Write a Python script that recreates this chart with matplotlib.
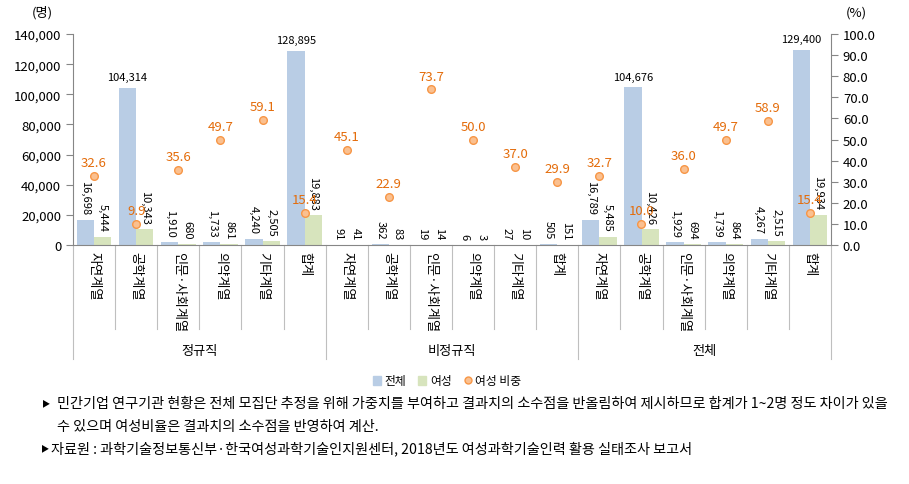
import matplotlib.pyplot as plt
from matplotlib.patches import Patch
from matplotlib.lines import Line2D

plt.rcParams['font.family'] = ['Noto Sans CJK KR', 'DejaVu Sans']

# data
groups = ['정규직', '비정규직', '전체']
fields = ['자연계열', '공학계열', '인문·사회계열', '의약계열', '기타계열', '합계']
total = [16698, 104314, 1910, 1733, 4240, 128895,
         91, 362, 19, 6, 27, 505,
         16789, 104676, 1929, 1739, 4267, 129400]
women = [5444, 10343, 680, 861, 2505, 19883,
         41, 83, 14, 3, 10, 151,
         5485, 10426, 694, 864, 2515, 19934]
ratio = [32.6, 9.9, 35.6, 49.7, 59.1, 15.4,
         45.1, 22.9, 73.7, 50.0, 37.0, 29.9,
         32.7, 10.0, 36.0, 49.7, 58.9, 15.4]

c_total = '#B9CDE5'
c_women = '#D7E4BD'
c_ratio = '#F79646'
c_text = '#E46C0A'
c_axis = '#868686'

fig = plt.figure(figsize=(9.09, 4.85), dpi=100)
ax = fig.add_axes([73/909, 1-246/485, (831-73)/909, (246-35)/485])
ax2 = ax.twinx()

n = len(total)
x = list(range(n))
w = 0.41
ax.bar([i - w/2 for i in x], total, w, color=c_total, zorder=2)
ax.bar([i + w/2 for i in x], women, w, color=c_women, zorder=2)
ax.set_xlim(-0.5, n - 0.5)
ax.set_ylim(0, 140000)
ax.set_yticks(range(0, 140001, 20000))
ax.set_yticklabels([f'{v:,}' for v in range(0, 140001, 20000)], fontsize=9.5)
ax.set_xticks([])

for i in x:
    if total[i] > 50000:
        ax.annotate(f'{total[i]:,}', (i - w/2, total[i]), xytext=(0, 4),
                    textcoords='offset points', ha='center', va='bottom', fontsize=8)
    else:
        ax.annotate(f'{total[i]:,}', (i - w/2, total[i]), xytext=(0, 4),
                    textcoords='offset points', ha='center', va='bottom',
                    rotation=-90, fontsize=8)
    ax.annotate(f'{women[i]:,}', (i + w/2, women[i]), xytext=(0, 4),
                textcoords='offset points', ha='center', va='bottom',
                rotation=-90, fontsize=8)

ax2.plot(x, ratio, 'o', ms=5.5, mfc='#FAC090', mec=c_ratio, mew=1, zorder=5)
ax2.set_ylim(0, 100)
ax2.set_yticks(range(0, 101, 10))
ax2.set_yticklabels([f'{v:.1f}' for v in range(0, 101, 10)], fontsize=9.5)
for i in x:
    ax2.annotate(f'{ratio[i]:.1f}', (i, ratio[i]), xytext=(0, 5),
                 textcoords='offset points', ha='center', va='bottom',
                 fontsize=9.5, color=c_text)

for a in (ax, ax2):
    a.spines['top'].set_visible(False)
    for s in ('left', 'right', 'bottom'):
        a.spines[s].set_color(c_axis)
    a.tick_params(axis='y', colors=c_axis, length=5, labelcolor='black')
ax.spines['right'].set_visible(False)
ax2.spines['left'].set_visible(False)
ax2.spines['bottom'].set_visible(False)

# category labels and separators
tr = ax.get_xaxis_transform()
for b in range(n + 1):
    bottom = -0.54 if b % 6 == 0 else -0.40
    ax.plot([b - 0.5, b - 0.5], [0, bottom], color='#BFBFBF', lw=0.8,
            transform=tr, clip_on=False)
for i in x:
    ax.text(i, -0.03, fields[i % 6], transform=tr, rotation=-90,
            ha='center', va='top', fontsize=9.5)
for g, name in enumerate(groups):
    ax.text(g * 6 + 2.5, -0.50, name, transform=tr, ha='center', va='center',
            fontsize=9.5)

fig.text(42/909, 1-13/485, '(명)', ha='center', va='center', fontsize=9.5)
fig.text(856/909, 1-13/485, '(%)', ha='center', va='center', fontsize=9.5)

handles = [Patch(color=c_total), Patch(color=c_women),
           Line2D([], [], ls='', marker='o', ms=5, mfc='#FAC090', mec=c_ratio)]
fig.legend(handles, ['전체', '여성', '여성 비중'], loc='center', ncol=3,
           bbox_to_anchor=(447/909, 1-382/485), frameon=False, fontsize=8.5,
           handlelength=0.7, handleheight=0.7, handletextpad=0.3, columnspacing=1.0)

# notes
fig.text(46/909, 1-404/485, '▶', ha='center', va='center', fontsize=6)
fig.text(57/909, 1-404/485,
         '민간기업 연구기관 현황은 전체 모집단 추정을 위해 가중치를 부여하고 결과치의 소수점을 반올림하여 제시하므로 합계가 1~2명 정도 차이가 있을',
         ha='left', va='center', fontsize=10.2)
fig.text(57/909, 1-427/485, '수 있으며 여성비율은 결과치의 소수점을 반영하여 계산.',
         ha='left', va='center', fontsize=10.2)
fig.text(45/909, 1-449/485, '▶', ha='center', va='center', fontsize=6)
fig.text(51/909, 1-449/485,
         '자료원 : 과학기술정보통신부·한국여성과학기술인지원센터, 2018년도 여성과학기술인력 활용 실태조사 보고서',
         ha='left', va='center', fontsize=10.2)

fig.savefig('out.png', dpi=100)
